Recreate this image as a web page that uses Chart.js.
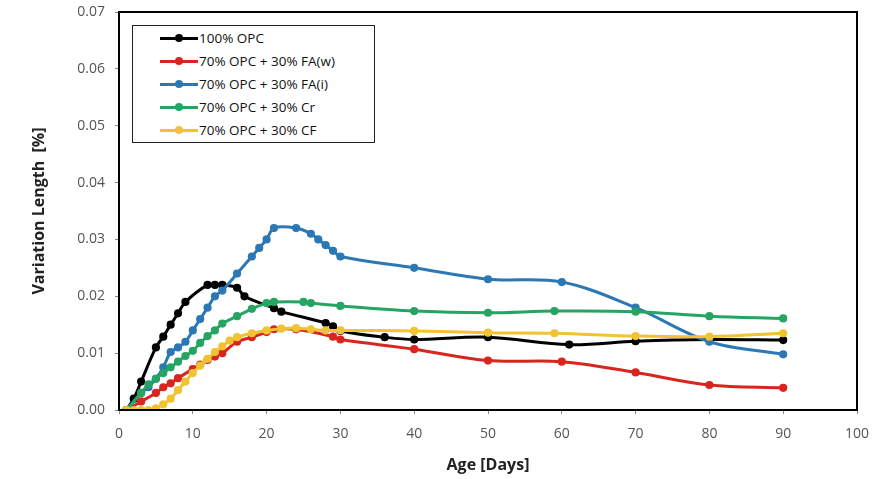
<!DOCTYPE html>
<html>
<head>
<meta charset="utf-8">
<script src="https://cdn.jsdelivr.net/npm/chart.js@4"></script>
<style>
  html, body { margin: 0; padding: 0; background: #fff; }
  #wrap { position: relative; width: 874px; height: 479px; }
  #legend {
    position: absolute; left: 132px; top: 25px; width: 243px; height: 118px;
    border: 1px solid #222; background: #fff; box-sizing: border-box;
    font-family: "Open Sans", sans-serif; font-size: 13.5px; color: #111;
  }
  .row { position: absolute; left: 27px; height: 16px; line-height: 16px; white-space: nowrap; }
  .row i { position: absolute; left: 0; top: 7px; width: 38px; height: 3px; }
  .row b { position: absolute; left: 15px; top: 4px; width: 8px; height: 8px; border-radius: 50%; }
  .row span { position: absolute; left: 39px; top: 0; }
</style>
</head>
<body>
<div id="wrap">
  <canvas id="c" width="874" height="479"></canvas>
  <div id="legend"></div>
</div>
<script>
// series names and colours
const names = [
  "100% OPC",
  "70% OPC + 30% FA(w)",
  "70% OPC + 30% FA(i)",
  "70% OPC + 30% Cr",
  "70% OPC + 30% CF"
];
const colors = ["#000000", "#d8261e", "#2b78b4", "#26a463", "#f1c232"];

// age in days / variation length in %
const opcDays = [1, 2, 3, 5, 6, 7, 8, 9, 12, 13, 14, 16, 17, 21, 22, 28, 29, 30, 36, 40, 50, 61, 70, 80, 90];
const opcVals = [0, 0.002, 0.005, 0.011, 0.0129, 0.015, 0.017, 0.019, 0.022, 0.022, 0.022, 0.0215, 0.020, 0.0179, 0.0173, 0.0153, 0.0147, 0.0139, 0.0128, 0.0124, 0.0128, 0.0115, 0.0121, 0.0124, 0.0123];

const faWDays = [1, 3, 5, 6, 7, 8, 10, 11, 12, 13, 14, 16, 18, 20, 21, 24, 29, 30, 40, 50, 60, 70, 80, 90];
const faWVals = [0, 0.0015, 0.003, 0.004, 0.0047, 0.0056, 0.0072, 0.008, 0.0088, 0.0094, 0.010, 0.012, 0.0128, 0.0137, 0.0142, 0.0142, 0.0129, 0.0124, 0.0107, 0.0087, 0.0085, 0.0066, 0.0044, 0.0039];

const faIDays = [1, 3, 4, 5, 6, 7, 8, 9, 10, 11, 12, 13, 14, 16, 18, 19, 20, 21, 24, 26, 27, 28, 29, 30, 40, 50, 60, 70, 80, 90];
const faIVals = [0, 0.003, 0.004, 0.0055, 0.0075, 0.0102, 0.011, 0.012, 0.014, 0.016, 0.018, 0.020, 0.021, 0.024, 0.027, 0.0285, 0.030, 0.032, 0.032, 0.031, 0.030, 0.029, 0.028, 0.027, 0.025, 0.023, 0.0225, 0.018, 0.012, 0.0098];

const crDays = [1, 3, 4, 5, 6, 7, 8, 9, 10, 11, 12, 13, 14, 16, 18, 20, 21, 25, 26, 30, 40, 50, 59, 70, 80, 90];
const crVals = [0, 0.003, 0.0045, 0.0055, 0.0065, 0.0075, 0.0085, 0.0095, 0.0104, 0.0118, 0.013, 0.014, 0.0152, 0.0165, 0.0178, 0.0188, 0.019, 0.019, 0.0188, 0.0183, 0.0174, 0.0171, 0.0174, 0.0173, 0.0165, 0.0161];

const cfDays = [1, 2, 3, 4, 5, 6, 7, 8, 9, 10, 11, 12, 13, 14, 15, 16, 18, 20, 22, 24, 26, 28, 30, 40, 50, 59, 70, 80, 90];
const cfVals = [0, 0, 0, 0, 0.0003, 0.001, 0.002, 0.0035, 0.005, 0.0065, 0.0078, 0.009, 0.0102, 0.0112, 0.0122, 0.0128, 0.0135, 0.014, 0.0143, 0.0144, 0.0142, 0.014, 0.014, 0.0139, 0.0136, 0.0135, 0.013, 0.0129, 0.0135];

const xTicks = [0, 10, 20, 30, 40, 50, 60, 70, 80, 90, 100];
const yTicks = [0, 0.01, 0.02, 0.03, 0.04, 0.05, 0.06, 0.07];

const allDays = [opcDays, faWDays, faIDays, crDays, cfDays];
const allVals = [opcVals, faWVals, faIVals, crVals, cfVals];

const datasets = names.map((n, i) => ({
  label: n,
  data: allDays[i].map((d, k) => ({ x: d, y: allVals[i][k] })),
  showLine: true,
  borderColor: colors[i],
  backgroundColor: colors[i],
  borderWidth: 3,
  pointRadius: 2.6,
  pointHoverRadius: 2.6,
  tension: 0.35
}));
datasets.reverse();

// legend as html
const leg = document.getElementById("legend");
const rowsY = [4, 27, 50, 73, 96];
names.forEach((n, i) => {
  const r = document.createElement("div");
  r.className = "row";
  r.style.top = rowsY[i] + "px";
  r.innerHTML = '<i style="background:' + colors[i] + '"></i><b style="background:' + colors[i] + '"></b><span>' + n + '</span>';
  leg.appendChild(r);
});

const frame = {
  id: "frame",
  afterDraw(chart) {
    const a = chart.chartArea, ctx = chart.ctx;
    ctx.save();
    ctx.strokeStyle = "#000";
    ctx.lineWidth = 2;
    ctx.strokeRect(a.left, a.top, a.right - a.left, a.bottom - a.top);
    ctx.restore();
  }
};

const tickFont = { family: "Open Sans", size: 14 };
const titleFont = { family: "Open Sans", size: 16, weight: "bold" };

new Chart(document.getElementById("c"), {
  type: "scatter",
  data: { datasets },
  options: {
    responsive: false,
    animation: false,
    layout: { padding: { top: 12, right: 17, left: 0, bottom: 0 } },
    plugins: { legend: { display: false }, tooltip: { enabled: false } },
    scales: {
      x: {
        type: "linear", min: 0, max: 100,
        afterBuildTicks: (s) => { s.ticks = xTicks.map(v => ({ value: v })); },
        afterFit: (s) => { s.height = 69; s.paddingLeft = 0; s.paddingRight = 0; },
        grid: { drawOnChartArea: false, drawTicks: true, tickLength: 4, color: "#888" },
        border: { color: "#000", width: 2 },
        ticks: { font: tickFont, color: "#555", padding: 12, maxRotation: 0 },
        title: { display: true, text: "Age [Days]", font: titleFont, color: "#222", padding: { top: 2 } }
      },
      y: {
        type: "linear", min: 0, max: 0.07,
        afterBuildTicks: (s) => { s.ticks = yTicks.map(v => ({ value: v })); },
        afterFit: (s) => { s.width = 119; s.paddingTop = 0; s.paddingBottom = 0; },
        grid: { drawOnChartArea: false, drawTicks: true, tickLength: 4, color: "#888" },
        border: { color: "#000", width: 2 },
        ticks: { font: tickFont, color: "#555", padding: 10, callback: (v) => v.toFixed(2) },
        title: { display: true, text: "Variation Length  [%]", font: titleFont, color: "#222", padding: { top: 30 } }
      }
    }
  },
  plugins: [frame]
});
</script>
</body>
</html>
